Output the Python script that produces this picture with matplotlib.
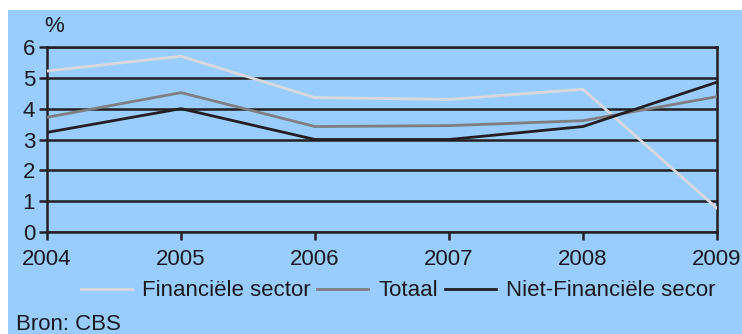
import matplotlib
matplotlib.use("Agg")
import matplotlib.pyplot as plt
from matplotlib.patches import Rectangle

years = [2004, 2005, 2006, 2007, 2008, 2009]
financiele = [5.22, 5.70, 4.36, 4.30, 4.63, 0.77]
totaal = [3.72, 4.52, 3.42, 3.45, 3.61, 4.39]
niet_financiele = [3.23, 4.00, 3.00, 3.00, 3.42, 4.86]
labels = ["Financiële sector", "Totaal", "Niet-Financiële secor"]

plt.rcParams["font.family"] = ["Liberation Sans", "DejaVu Sans"]

blue = "#99CCFF"
dark = "#231F20"
txt = "#1a1a1a"
fs = 16

fig = plt.figure(figsize=(7.42, 3.34), dpi=100)
fig.patch.set_facecolor("white")
fig.patches.append(Rectangle((8 / 742, 0), 1, 1 - 10 / 334, transform=fig.transFigure,
                             facecolor=blue, edgecolor="none", zorder=-5))

ax = fig.add_axes([47 / 742, 1 - 232 / 334, (717 - 47) / 742, (232 - 47) / 334])
ax.set_facecolor(blue)

for y in range(0, 7):
    ax.axhline(y, color=dark, lw=1.8, zorder=1)

l1, = ax.plot(years, financiele, color="#D9D9D9", lw=2.0, zorder=3)
l2, = ax.plot(years, totaal, color="#7F7F7F", lw=2.0, zorder=3)
l3, = ax.plot(years, niet_financiele, color=dark, lw=2.0, zorder=3)

ax.set_xlim(2004, 2009)
ax.set_ylim(0, 6)
ax.set_yticks(range(0, 7))
ax.set_xticks(years)
for s in ["left", "right", "bottom", "top"]:
    ax.spines[s].set_color(dark)
    ax.spines[s].set_linewidth(1.8)
ax.tick_params(axis="both", colors=dark, labelsize=fs, width=1.8, length=5.5, labelcolor=txt)
ax.tick_params(axis="x", pad=7)
ax.tick_params(axis="y", pad=3)

fig.text(54 / 742, 1 - 26 / 334, "%", fontsize=fs, color=txt, va="center", ha="center")

fig.legend([l1, l2, l3], labels, loc="center", bbox_to_anchor=(398 / 742, 1 - 291 / 334),
           ncol=3, frameon=False, fontsize=fs, handlelength=2.3, columnspacing=0.3,
           handletextpad=0.45, labelcolor=txt)

fig.text(16 / 742, 1 - 325 / 334, "Bron: CBS", fontsize=fs, color=txt, va="center", ha="left")

fig.savefig("out.png", dpi=100, facecolor=fig.get_facecolor())
